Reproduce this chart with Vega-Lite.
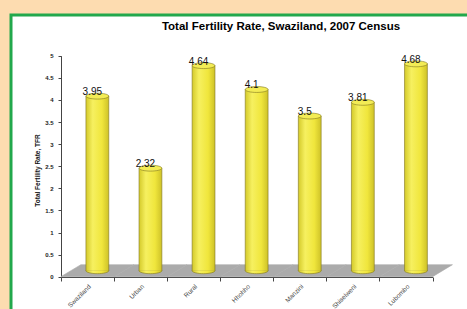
{
  "$schema": "https://vega.github.io/schema/vega-lite/v6.json",
  "width": 460,
  "height": 300,
  "autosize": {"type": "none"},
  "padding": {"left": 11, "top": 15, "right": 0, "bottom": 0},
  "background": "#FDDCB0",
  "config": {
    "view": {"fill": "white", "stroke": "#22A84C", "strokeWidth": 3},
    "font": "Liberation Sans",
    "axisX": {"offset": -38},
    "axisY": {"offset": -50}
  },
  "title": {
    "text": "Total Fertility Rate, Swaziland, 2007 Census",
    "font": "Liberation Sans",
    "fontSize": 11.5,
    "fontWeight": "bold",
    "color": "#000000",
    "anchor": "middle",
    "frame": "group",
    "baseline": "middle",
    "offset": 0,
    "dx": 40,
    "dy": 23
  },
  "data": {
    "values": [
      {"area": "Swaziland", "tfr": 3.95},
      {"area": "Urban", "tfr": 2.32},
      {"area": "Rural", "tfr": 4.64},
      {"area": "Hhohho", "tfr": 4.1},
      {"area": "Manzini", "tfr": 3.5},
      {"area": "Shiselweni", "tfr": 3.81},
      {"area": "Lubombo", "tfr": 4.68}
    ]
  },
  "encoding": {
    "x": {
      "field": "area",
      "type": "nominal",
      "sort": null,
      "scale": {"range": [49.8, 421.5], "paddingInner": 0, "paddingOuter": 0},
      "axis": {
        "title": null,
        "domain": true,
        "domainColor": "#444444",
        "domainWidth": 1,
        "ticks": true,
        "tickBand": "extent",
        "tickSize": 4,
        "tickColor": "#444444",
        "labelAngle": 315,
        "labelAlign": "right",
        "labelBaseline": "top",
        "labelFontSize": 6.5,
        "labelColor": "#444444",
        "labelPadding": 2,
        "grid": false
      }
    },
    "y": {
      "field": "tfr",
      "type": "quantitative",
      "title": "Total Fertility Rate, TFR",
      "scale": {"domain": [0, 5], "range": [261.7, 40.7], "nice": false, "zero": false},
      "axis": {
        "values": [0, 0.5, 1, 1.5, 2, 2.5, 3, 3.5, 4, 4.5, 5],
        "format": "~g",
        "grid": false,
        "domainColor": "#444444",
        "tickColor": "#444444",
        "tickSize": 3,
        "labelFontSize": 6,
        "labelFontWeight": "bold",
        "labelColor": "#222222",
        "labelPadding": 5,
        "titleFontSize": 6.5,
        "titleFontWeight": "bold",
        "titleColor": "#111111",
        "titleX": -24,
        "titleY": 155,
        "titleAlign": "center",
        "titleBaseline": "middle"
      }
    }
  },
  "layer": [
    {
      "mark": {
        "type": "point",
        "shape": "M-1,0.164L0.455,0.164L1,-0.164L-0.452,-0.164Z",
        "size": 5329,
        "filled": true,
        "fill": "#ABABAB",
        "stroke": "#ABABAB",
        "strokeWidth": 0.6,
        "opacity": 1,
        "xOffset": 10,
        "yOffset": -6
      },
      "encoding": {"y": {"datum": 0, "type": "quantitative", "title": "Total Fertility Rate, TFR"}}
    },
    {
      "mark": {
        "type": "bar",
        "width": {"band": 0.43},
        "xOffset": 10,
        "yOffset": -6,
        "fill": {
          "gradient": "linear",
          "x1": 0, "y1": 0, "x2": 1, "y2": 0,
          "stops": [
            {"offset": 0, "color": "#D4CA2A"},
            {"offset": 0.3, "color": "#F6F060"},
            {"offset": 0.7, "color": "#F0E63C"},
            {"offset": 1, "color": "#CEC228"}
          ]
        },
        "stroke": "#7F7620",
        "strokeWidth": 0.6
      }
    },
    {
      "mark": {
        "type": "point",
        "shape": "M-1,-0.04L-1,0A1,0.26,0,0,0,1,0L1,-0.04",
        "size": 520,
        "filled": true,
        "fill": {
          "gradient": "linear",
          "x1": 0, "y1": 0, "x2": 1, "y2": 0,
          "stops": [
            {"offset": 0, "color": "#D4CA2A"},
            {"offset": 0.3, "color": "#F6F060"},
            {"offset": 0.7, "color": "#F0E63C"},
            {"offset": 1, "color": "#CEC228"}
          ]
        },
        "stroke": "#7F7620",
        "strokeWidth": 0.6,
        "opacity": 1,
        "xOffset": 10,
        "yOffset": -6
      },
      "encoding": {"y": {"datum": 0, "type": "quantitative", "title": "Total Fertility Rate, TFR"}}
    },
    {
      "mark": {
        "type": "point",
        "shape": "M-1,0A1,0.26,0,1,0,1,0A1,0.26,0,1,0,-1,0Z",
        "size": 520,
        "filled": true,
        "fill": "#F3EC55",
        "stroke": "#7F7620",
        "strokeWidth": 0.6,
        "opacity": 1,
        "xOffset": 10,
        "yOffset": -6
      }
    },
    {
      "mark": {
        "type": "text",
        "fontSize": 10,
        "color": "#111111",
        "baseline": "middle",
        "align": "center",
        "xOffset": 5,
        "yOffset": -10
      },
      "encoding": {"text": {"field": "tfr", "type": "quantitative", "format": "~g"}}
    }
  ]
}
